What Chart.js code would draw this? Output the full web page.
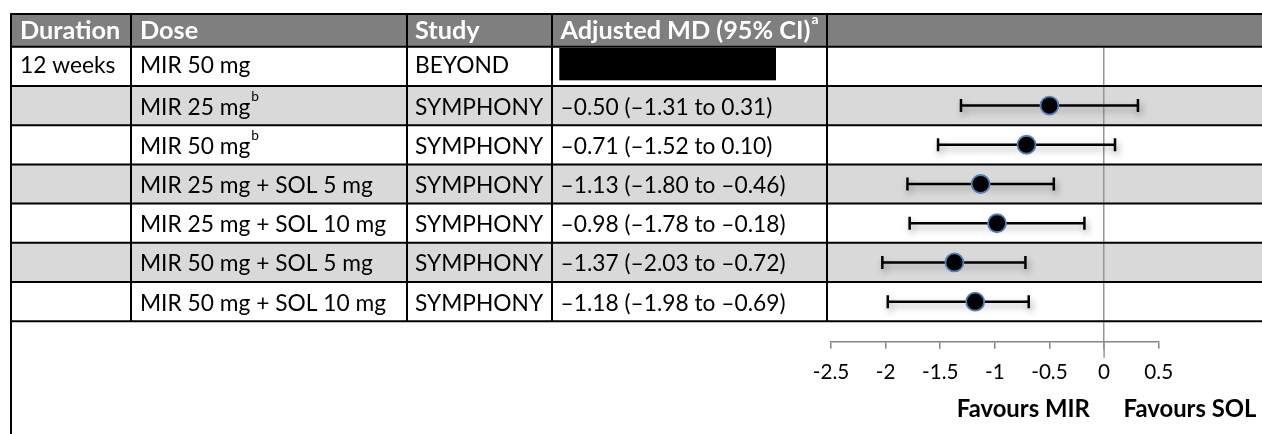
<!DOCTYPE html>
<html><head><meta charset="utf-8">
<script src="https://cdn.jsdelivr.net/npm/chart.js@4.4.1/dist/chart.umd.min.js"></script>
<style>html,body{margin:0;padding:0;background:#fff;overflow:hidden}canvas{display:block}</style>
</head><body>
<canvas id="c" width="1262" height="434"></canvas>
<script>
// ---- data ----
const headers = ['Duration', 'Dose', 'Study', 'Adjusted MD (95% CI)'];
const headerNotes = ['', '', '', 'a'];
const durations = ['12 weeks', '', '', '', '', '', ''];
const doses = ['MIR 50 mg', 'MIR 25 mg', 'MIR 50 mg', 'MIR 25 mg + SOL 5 mg', 'MIR 25 mg + SOL 10 mg', 'MIR 50 mg + SOL 5 mg', 'MIR 50 mg + SOL 10 mg'];
const doseNotes = ['', 'b', 'b', '', '', '', ''];
const studies = ['BEYOND', 'SYMPHONY', 'SYMPHONY', 'SYMPHONY', 'SYMPHONY', 'SYMPHONY', 'SYMPHONY'];
const meanDiff = [null, -0.50, -0.71, -1.13, -0.98, -1.37, -1.18];
const ciLow = [null, -1.31, -1.52, -1.80, -1.78, -2.03, -1.98];
const ciHigh = [null, 0.31, 0.10, -0.46, -0.18, -0.72, -0.69];
const redacted = [true, false, false, false, false, false, false];
const xTicks = [-2.5, -2, -1.5, -1, -0.5, 0, 0.5];
const favourLabels = ['Favours MIR', 'Favours SOL'];

// ---- helpers ----
const FAMILY = 'Lato';
const mctx = document.createElement('canvas').getContext('2d');
function fitSize(text, target, weight) {
  mctx.font = weight + ' 100px ' + FAMILY;
  return 100 * target / mctx.measureText(text).width;
}
function fmt(v) { return (v < 0 ? '\u2013' : '') + Math.abs(v).toFixed(2); }

function build() {
  const bodySize = fitSize('MIR 50 mg + SOL 10 mg', 246, 'normal');
  const headSize = fitSize('Adjusted MD (95% CI)', 250, 'bold');
  const tickSize = fitSize('-0.5', 36.5, 'normal');
  const favSize = fitSize('Favours SOL', 133, 'bold');

  const colX = [11, 131, 407, 552, 827];
  const textX = [20, 140, 415, 560.5];
  const W = 1262;
  const tableTop = 14;

  const meanData = [];
  const ciData = [];
  meanDiff.forEach((m, i) => {
    if (m === null) return;
    meanData.push({ x: m, y: i });
    ciData.push({ x: ciLow[i], y: i }, { x: ciHigh[i], y: i }, { x: null, y: null });
  });

  function capH(ctx) { return ctx.measureText('H').actualBoundingBoxAscent; }

  const tablePlugin = {
    id: 'table',
    beforeDraw(chart) {
      const ctx = chart.ctx, ca = chart.chartArea, y = chart.scales.y;
      ctx.save();
      ctx.fillStyle = '#fff';
      ctx.fillRect(0, 0, chart.width, chart.height);
      ctx.fillStyle = '#7f7f7f';
      ctx.fillRect(colX[0], tableTop, W - colX[0], ca.top - tableTop);
      ctx.fillStyle = '#d9d9d9';
      doses.forEach((d, i) => {
        if (i % 2 === 1) {
          const t = y.getPixelForValue(i - 0.5), b = y.getPixelForValue(i + 0.5);
          ctx.fillRect(colX[0], t, W - colX[0], b - t);
        }
      });
      ctx.restore();
    },
    afterDraw(chart) {
      const ctx = chart.ctx, ca = chart.chartArea, y = chart.scales.y, x = chart.scales.x;
      const n = doses.length;
      const tableBottom = y.getPixelForValue(n - 0.5);
      ctx.save();
      // zero reference line continues a little below the axis
      const x0 = x.getPixelForValue(0);
      ctx.strokeStyle = '#969696';
      ctx.lineWidth = 1.5;
      ctx.beginPath();
      ctx.moveTo(x0, ca.bottom); ctx.lineTo(x0, ca.bottom + 16);
      ctx.stroke();
      // redaction box
      ctx.fillStyle = '#000';
      redacted.forEach((r, i) => {
        if (!r) return;
        const c = y.getPixelForValue(i);
        ctx.fillRect(559.3, c - 18.4, 216.7, 32.4);
      });
      // borders
      ctx.strokeStyle = '#000';
      ctx.lineWidth = 2;
      ctx.beginPath();
      ctx.moveTo(colX[0], tableTop); ctx.lineTo(W, tableTop);
      ctx.moveTo(colX[0], ca.top); ctx.lineTo(W, ca.top);
      for (let i = 1; i <= n; i++) {
        const yy = y.getPixelForValue(i - 0.5);
        ctx.moveTo(colX[0], yy); ctx.lineTo(W, yy);
      }
      ctx.moveTo(colX[0], tableTop - 1); ctx.lineTo(colX[0], chart.height);
      for (let k = 1; k < colX.length; k++) {
        ctx.moveTo(colX[k], tableTop); ctx.lineTo(colX[k], tableBottom);
      }
      ctx.stroke();
      // header text
      ctx.textBaseline = 'alphabetic';
      ctx.textAlign = 'left';
      ctx.font = 'bold ' + headSize + 'px ' + FAMILY;
      ctx.fillStyle = '#fff';
      let ch = capH(ctx);
      const headMid = (tableTop + ca.top) / 2 - 0.6;
      headers.forEach((h, k) => {
        ctx.font = 'bold ' + headSize + 'px ' + FAMILY;
        ctx.fillText(h, textX[k], headMid + ch / 2);
        if (headerNotes[k]) {
          const w = ctx.measureText(h).width;
          ctx.font = 'bold ' + (headSize * 0.55) + 'px ' + FAMILY;
          ctx.fillText(headerNotes[k], textX[k] + w + 1, headMid - ch / 2 + 3);
        }
      });
      // body text
      ctx.fillStyle = '#000';
      ctx.font = 'normal ' + bodySize + 'px ' + FAMILY;
      ch = capH(ctx);
      for (let i = 0; i < n; i++) {
        const mid = y.getPixelForValue(i) - (i === 0 ? 1.5 : -0.5);
        const base = mid + ch / 2;
        ctx.font = 'normal ' + bodySize + 'px ' + FAMILY;
        if (durations[i]) ctx.fillText(durations[i], textX[0], base);
        ctx.fillText(doses[i], textX[1], base);
        if (doseNotes[i]) {
          const w = ctx.measureText(doses[i]).width;
          ctx.font = 'normal ' + (bodySize * 0.6) + 'px ' + FAMILY;
          ctx.fillText(doseNotes[i], textX[1] + w + 1, mid - ch / 2 + 3);
          ctx.font = 'normal ' + bodySize + 'px ' + FAMILY;
        }
        ctx.fillText(studies[i], textX[2], base);
        if (meanDiff[i] !== null) {
          ctx.fillText(fmt(meanDiff[i]) + ' (' + fmt(ciLow[i]) + ' to ' + fmt(ciHigh[i]) + ')', textX[3], base);
        }
      }
      // favour labels
      ctx.font = 'bold ' + favSize + 'px ' + FAMILY;
      ch = capH(ctx);
      ctx.textAlign = 'center';
      ctx.fillText(favourLabels[0], 1023.3, 407.7 + ch / 2);
      ctx.fillText(favourLabels[1], 1190, 407.7 + ch / 2);
      ctx.restore();
    }
  };

  const shadowPlugin = {
    id: 'ciShadow',
    beforeDatasetDraw(chart, args) {
      if (args.index !== 1) return;
      const ctx = chart.ctx;
      ctx.save();
      ctx.shadowColor = 'rgba(0,0,0,0.35)';
      ctx.shadowBlur = 7;
      ctx.shadowOffsetX = 2;
      ctx.shadowOffsetY = 4;
    },
    afterDatasetDraw(chart, args) {
      if (args.index !== 1) return;
      chart.ctx.restore();
    }
  };

  new Chart(document.getElementById('c'), {
    type: 'scatter',
    data: {
      datasets: [
        {
          label: 'Adjusted MD',
          data: meanData,
          pointRadius: 9,
          pointHoverRadius: 9,
          pointBackgroundColor: '#000',
          pointBorderColor: '#4f81bd',
          pointBorderWidth: 1.8,
          showLine: false
        },
        {
          label: '95% CI',
          data: ciData,
          showLine: true,
          spanGaps: false,
          borderColor: '#000',
          borderWidth: 2.5,
          borderCapStyle: 'butt',
          pointStyle: 'line',
          pointRotation: 90,
          pointRadius: 6.5,
          pointHoverRadius: 6.5,
          pointBorderColor: '#000',
          pointBorderWidth: 2.5
        }
      ]
    },
    options: {
      responsive: false,
      animation: false,
      devicePixelRatio: 1,
      events: [],
      layout: { padding: { left: 831, right: 103.3, top: 46.7, bottom: 0 } },
      plugins: { legend: { display: false }, tooltip: { enabled: false } },
      scales: {
        x: {
          type: 'linear',
          min: -2.5,
          max: 0.5,
          afterBuildTicks: s => { s.ticks = xTicks.map(v => ({ value: v })); },
          afterFit: s => { s.height = 92.3; },
          grid: {
            drawOnChartArea: true,
            color: c => (c.tick && c.tick.value === 0) ? '#969696' : 'rgba(0,0,0,0)',
            lineWidth: 1.5,
            tickLength: 7,
            tickColor: '#868686',
            tickWidth: 1.5
          },
          border: { display: true, color: '#868686', width: 1.5 },
          ticks: {
            font: { family: FAMILY, size: tickSize },
            color: '#000',
            padding: 11,
            autoSkip: false,
            maxRotation: 0,
            callback: v => String(v)
          }
        },
        y: { type: 'linear', reverse: true, min: -0.5, max: 7.02, display: false }
      }
    },
    plugins: [tablePlugin, shadowPlugin]
  });
}

Promise.all([
  document.fonts.load('16px ' + FAMILY),
  document.fonts.load('bold 16px ' + FAMILY)
]).then(build, build);
</script>
</body></html>
